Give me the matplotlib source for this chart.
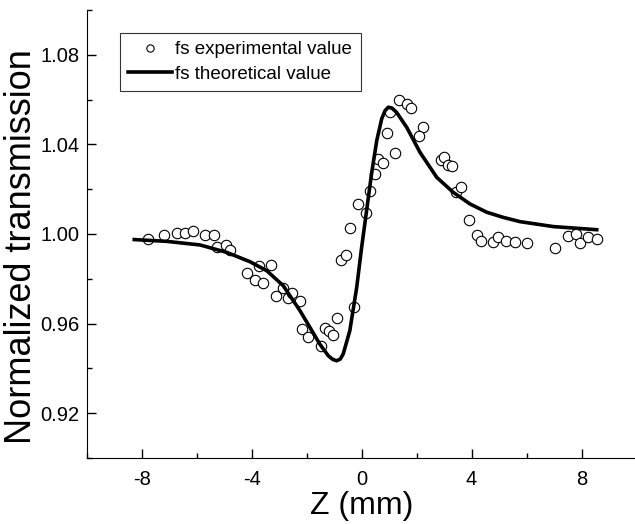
import matplotlib
matplotlib.use("Agg")
import matplotlib.pyplot as plt
from matplotlib.ticker import MultipleLocator

plt.rcParams['font.family'] = ['Liberation Sans', 'DejaVu Sans']

# experimental points (Z in mm, normalized transmission)
z_exp = [-7.78, -7.18, -6.73, -6.44, -6.12, -5.69, -5.38, -5.25, -4.93, -4.79,
         -4.18, -3.89, -3.72, -3.59, -3.30, -3.12, -2.86, -2.69, -2.55,
         -2.24, -2.18, -1.94, -1.49, -1.33, -1.18, -1.03, -0.89, -0.28,
         -0.74, -0.58, -0.44, -0.13, 0.17, 0.31, 0.48, 0.60, 0.76, 1.21,
         0.91, 1.03, 1.36, 1.64, 1.79, 2.24, 2.09,
         2.87, 3.00, 3.15, 3.29, 3.43, 3.60, 3.90, 4.20, 4.35, 4.79, 4.96,
         5.24, 5.56, 6.00, 7.04, 7.49, 7.80, 7.95, 8.24, 8.56]
t_exp = [0.9976, 0.9994, 1.0004, 1.0003, 1.0012, 0.9994, 0.9997, 0.9940, 0.9951, 0.9927,
         0.9826, 0.9796, 0.9857, 0.9781, 0.9863, 0.9721, 0.9759, 0.9714, 0.9736,
         0.9702, 0.9575, 0.9541, 0.9498, 0.9580, 0.9565, 0.9550, 0.9625, 0.9672,
         0.9884, 0.9907, 1.0025, 1.0134, 1.0092, 1.0194, 1.0268, 1.0335, 1.0319, 1.0360,
         1.0450, 1.0543, 1.0596, 1.0581, 1.0563, 1.0476, 1.0436,
         1.0332, 1.0345, 1.0307, 1.0305, 1.0186, 1.0208, 1.0064, 0.9996, 0.9967, 0.9962, 0.9988,
         0.9967, 0.9966, 0.9960, 0.9936, 0.9992, 1.0000, 0.9958, 0.9985, 0.9978]

# theoretical curve
z_fit = [-8.27, -7.09, -5.88, -4.91, -4.06, -3.45, -2.85, -2.24, -1.88, -1.52,
         -1.21, -1.05, -0.91, -0.78, -0.67, -0.43, -0.18, 0.0, 0.18, 0.36,
         0.55, 0.73, 0.85, 0.97, 1.10, 1.27, 1.64, 2.12, 2.73, 3.33,
         3.94, 4.55, 5.15, 5.76, 6.97, 8.55]
t_fit = [0.9975, 0.9967, 0.9951, 0.9918, 0.9876, 0.9836, 0.9769, 0.9657, 0.9583, 0.9508,
         0.9456, 0.9440, 0.9434, 0.9441, 0.9464, 0.9568, 0.9761, 0.9940, 1.0104, 1.0268,
         1.0417, 1.0514, 1.0550, 1.0566, 1.0562, 1.0543, 1.0476, 1.0365, 1.0253, 1.0186,
         1.0134, 1.0097, 1.0074, 1.0055, 1.0033, 1.0019]

fig = plt.figure(figsize=(6.35, 5.24), dpi=100)
ax = fig.add_axes([0.1365, 0.126, 0.866, 0.855])

ax.plot(z_exp, t_exp, 'o', mfc='white', mec='black', ms=7.5, mew=0.8,
        label='fs experimental value')
ax.plot(z_fit, t_fit, '-', color='black', lw=2.6, label='fs theoretical value')

ax.set_xlim(-10, 10)
ax.set_ylim(0.90, 1.10)
ax.xaxis.set_minor_locator(MultipleLocator(2))
ax.yaxis.set_minor_locator(MultipleLocator(0.02))
ax.set_xticks([-8, -4, 0, 4, 8])
ax.set_xticklabels(['-8', '-4', '0', '4', '8'])
ax.set_yticks([0.92, 0.96, 1.00, 1.04, 1.08])
ax.set_yticklabels(['0.92', '0.96', '1.00', '1.04', '1.08'])

ax.tick_params(which='major', direction='in', length=6.5, width=1.0, labelsize=14.5)
ax.tick_params(axis='x', which='major', pad=9)
ax.tick_params(axis='y', which='major', pad=5)
ax.tick_params(which='minor', direction='in', length=3.6, width=1.0)
ax.spines['top'].set_visible(False)
ax.spines['right'].set_visible(False)

ax.set_xlabel('Z (mm)', fontsize=23, labelpad=1)
ax.set_ylabel('Normalized transmission', fontsize=26)
ax.yaxis.set_label_coords(-0.087, 0.473)

leg = ax.legend(loc='upper left', bbox_to_anchor=(0.0605, 0.949), borderaxespad=0,
                fontsize=13.5, frameon=True, fancybox=False, edgecolor='black',
                handlelength=2.3, handletextpad=0.2, borderpad=0.45,
                labelspacing=0.4, markerscale=0.7)
leg.get_frame().set_linewidth(0.8)

fig.savefig('out.png', dpi=100)
